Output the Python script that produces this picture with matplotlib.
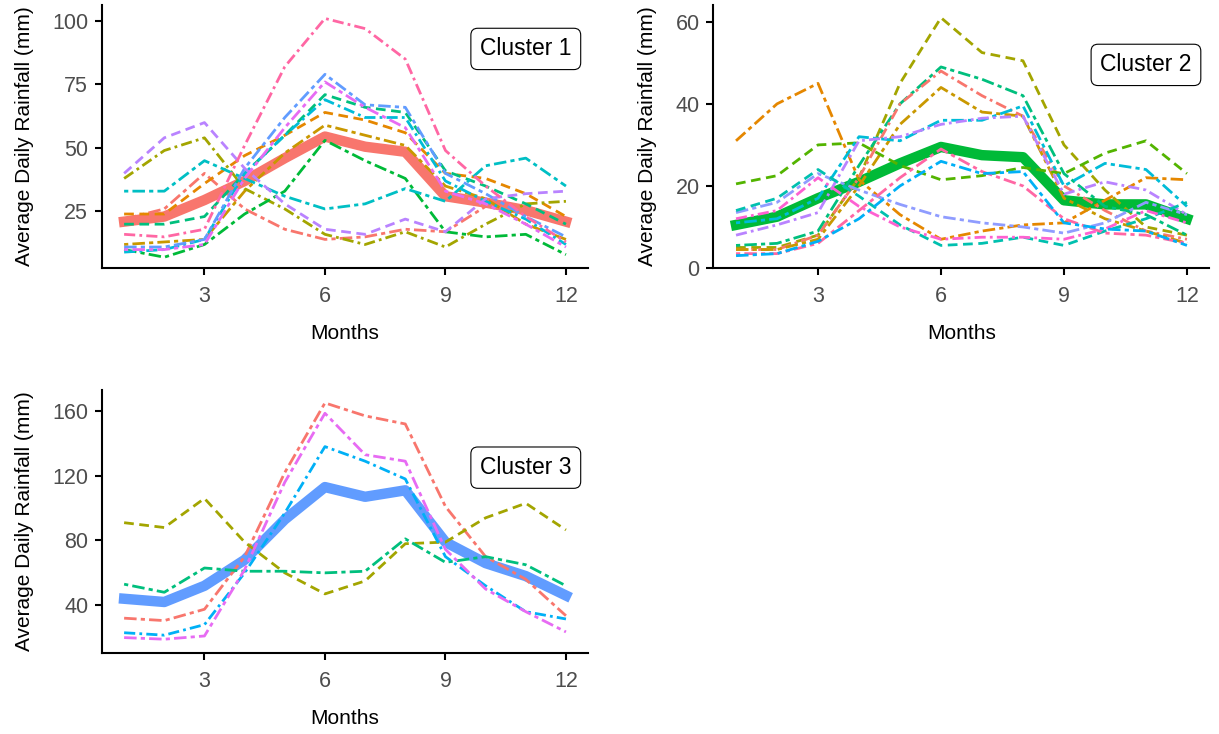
import matplotlib
matplotlib.use('Agg')
import matplotlib.pyplot as plt
import numpy as np

plt.rcParams['font.family'] = ['Liberation Sans', 'DejaVu Sans']

months = np.arange(1, 13)

# cluster 1
c1_mean = [21, 23, 29.5, 37, 46, 54.5, 50.5, 48.5, 31, 28.5, 25.5, 21]
c1_colors = ['#F8766D', '#E58700', '#C99800', '#A3A500', '#00BA38', '#00BF7D',
             '#00BFC4', '#00BCD8', '#619CFF', '#B983FF', '#E76BF3', '#FF67A4']
c1_lines = [
    [22, 26, 40, 26, 18, 14, 15, 18, 17, 27, 27, 22],
    [24, 24, 36, 47, 55, 64, 61, 56, 40, 38, 32, 23],
    [12, 13, 14, 33, 48, 59, 55, 51, 35, 30, 20, 14],
    [38, 49, 54, 34, 26, 16, 12, 17, 11, 20, 28, 29],
    [10, 7, 12, 24, 33, 53, 45, 38, 17, 15, 16, 8],
    [20, 20, 23, 40, 55, 71, 66, 64, 41, 35, 28, 20],
    [33, 33, 45, 38, 31, 26, 28, 34, 29, 43, 46, 35],
    [9, 10, 14, 40, 55, 69, 62, 62, 37, 29, 22, 12],
    [11, 11, 14, 42, 62, 79, 67, 66, 40, 32, 23, 15],
    [40, 54, 60, 42, 28, 18, 16, 22, 17, 30, 32, 33],
    [10, 10, 12, 38, 58, 76, 66, 58, 33, 28, 20, 11],
    [16, 15, 18, 51, 82, 101, 97, 85, 49, 35, 23, 13],
]

# cluster 2
c2_mean = [10.5, 12.5, 17, 21, 25.5, 29.5, 27.5, 27, 16.5, 15.5, 15.5, 12]
c2_colors = ['#E58700', '#A3A500', '#00BF7D', '#F8766D', '#C99800', '#53B400',
             '#00BCD8', '#B983FF', '#8F9CFF', '#00C0AF', '#FF67A4', '#FD61D1', '#00B0F6']
c2_lines = [
    [31, 40, 45, 21.5, 13, 7, 9, 10.5, 11, 16.5, 22, 21.5],
    [5, 5, 8, 22, 45, 61, 52.5, 50.5, 30, 19, 10, 8],
    [5.5, 6, 9, 25, 40, 49, 46, 42, 23, 15, 13, 8],
    [4.5, 4.5, 8, 22, 40, 48, 42, 37, 20, 14, 9, 7],
    [4.5, 4.5, 7, 20, 35, 44, 38, 37, 17, 12, 9, 6],
    [20.5, 22.5, 30, 30.5, 25, 21.5, 22.5, 24.5, 23, 28, 31, 23],
    [11, 12, 17, 32, 31, 36, 36, 39.5, 20, 25.5, 24, 15],
    [8, 10.5, 13.5, 31, 32, 35, 36.5, 37, 18, 21, 19, 13],
    [13.5, 16, 23, 19, 15.5, 12.5, 11, 10, 8.5, 11, 16, 13],
    [14, 17, 24, 17.5, 10.5, 5.5, 6, 7.5, 5.5, 9, 12, 16],
    [3.5, 3.5, 6, 14, 22, 29, 23.5, 20, 12, 8.5, 8, 6],
    [12, 14, 22, 15, 10, 7, 7.5, 7.5, 7, 9.5, 14, 11],
    [3, 3.5, 6.5, 12, 20, 26, 23, 23.5, 11, 9.5, 9, 5.5],
]

# cluster 3
c3_mean = [44, 42, 52, 68, 93, 113, 107, 111, 79, 66, 58, 46]
c3_colors = ['#F8766D', '#A3A500', '#00BF7D', '#00B0F6', '#E76BF3']
c3_lines = [
    [32, 30.5, 37.5, 70, 122, 165, 157, 152, 101, 70, 56, 33.5],
    [91, 88, 106, 79, 60, 47, 55, 78, 79, 94, 103, 86.5],
    [53, 48, 63, 61, 61, 60, 61, 81, 66.5, 70, 65, 52],
    [23, 21.5, 28, 60, 97, 138, 129, 118, 70, 52, 36, 31.5],
    [20, 19, 21, 62, 116, 158.6, 133, 129, 74.5, 50, 36, 23.5],
]

panels = [
    ('Cluster 1', c1_mean, '#F8766D', c1_lines, c1_colors, (2.75, 106.3), [25, 50, 75, 100], 89,
     [0.0837, 0.6349, 0.3987, 0.3583]),
    ('Cluster 2', c2_mean, '#00BA38', c2_lines, c2_colors, (0.1, 64.1), [0, 20, 40, 60], 49.5,
     [0.5853, 0.6349, 0.4069, 0.3583]),
    ('Cluster 3', c3_mean, '#619CFF', c3_lines, c3_colors, (10.5, 173), [40, 80, 120, 160], 125,
     [0.0837, 0.1104, 0.3987, 0.3583]),
]

dash_types = [(4.5, 1.5, 1.5, 1.5), (3.5, 2), (1.5, 1.5, 4.5, 1.5), (4, 1.5, 1, 1.5)]

fig = plt.figure(figsize=(12.19, 7.34), dpi=100)

for name, mean, mcol, lines, cols, ylim, yticks, ylab, rect in panels:
    ax = fig.add_axes(rect)
    ax.plot(months, mean, color=mcol, lw=7.5, solid_joinstyle='round', zorder=2)
    for i, (vals, c) in enumerate(zip(lines, cols)):
        ax.plot(months, vals, color=c, lw=2.0, dashes=dash_types[i % 4], zorder=3)
    ax.text(11, ylab, name, ha='center', va='center', fontsize=16.5, zorder=5,
            bbox=dict(boxstyle='round,pad=0.4,rounding_size=0.3', fc='white', ec='black', lw=0.8))
    ax.set_xlim(0.45, 12.55)
    ax.set_ylim(*ylim)
    ax.set_xticks([3, 6, 9, 12])
    ax.set_yticks(yticks)
    for s in ['top', 'right']:
        ax.spines[s].set_visible(False)
    for s in ['left', 'bottom']:
        ax.spines[s].set_linewidth(1.5)
    ax.tick_params(length=5, width=1.5, labelsize=15.5, labelcolor='#4D4D4D', pad=5)
    ax.tick_params(axis='x', pad=8)
    ax.set_xlabel('Months', fontsize=15, labelpad=12)
    ax.set_ylabel('Average Daily Rainfall (mm)', fontsize=15, labelpad=13)

fig.savefig('out.png', dpi=100)
